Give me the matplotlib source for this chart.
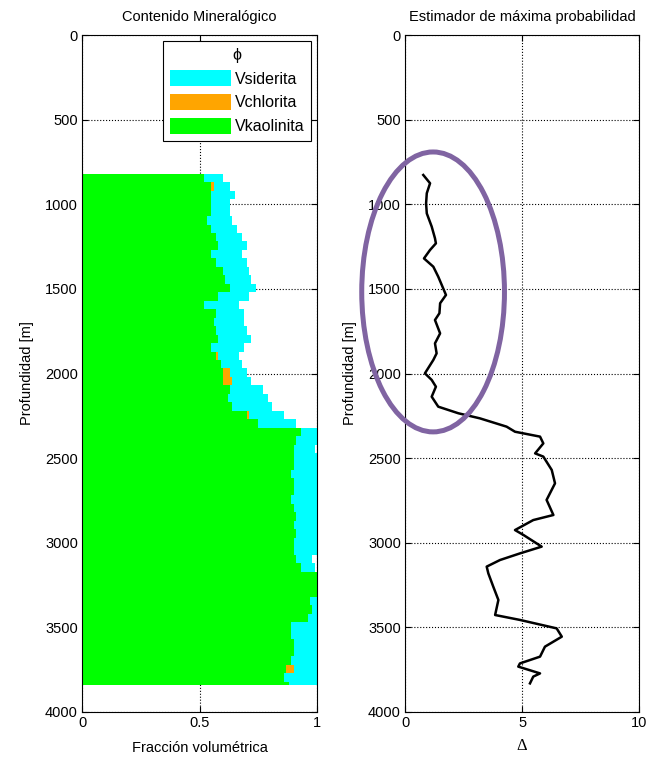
import matplotlib.pyplot as plt
import numpy as np
from matplotlib.patches import Patch, Ellipse

plt.rcParams['font.family'] = ['Liberation Sans', 'DejaVu Sans']
plt.rcParams['font.size'] = 10

# mineral content, 50 m blocks starting at each depth
depth_min = [820, 870, 920, 970, 1020, 1070, 1120, 1170, 1220, 1270,
             1320, 1370, 1420, 1470, 1520, 1570, 1620, 1670, 1720, 1770,
             1820, 1870, 1920, 1970, 2020, 2070, 2120, 2170, 2220, 2270,
             2320, 2370, 2420, 2470, 2520, 2570, 2620, 2670, 2720, 2770,
             2820, 2870, 2920, 2970, 3020, 3070, 3120, 3170, 3220, 3270,
             3320, 3370, 3420, 3470, 3520, 3570, 3620, 3670, 3720, 3770,
             3820]
depth_end = 3840
vkaol = [0.52, 0.55, 0.55, 0.55, 0.55, 0.53, 0.55, 0.57, 0.58, 0.55,
         0.57, 0.60, 0.61, 0.63, 0.58, 0.52, 0.57, 0.56, 0.57, 0.58,
         0.55, 0.57, 0.59, 0.60, 0.60, 0.63, 0.62, 0.64, 0.70, 0.75,
         0.93, 0.91, 0.90, 0.90, 0.90, 0.89, 0.90, 0.90, 0.89, 0.90,
         0.91, 0.90, 0.91, 0.90, 0.90, 0.91, 0.93, 1.00, 1.00, 1.00,
         0.97, 0.98, 0.96, 0.89, 0.89, 0.90, 0.90, 0.89, 0.87, 0.86,
         0.88]
vchl = [0.00, 0.01, 0.00, 0.00, 0.00, 0.00, 0.00, 0.00, 0.00, 0.00,
        0.00, 0.00, 0.00, 0.00, 0.00, 0.00, 0.00, 0.00, 0.00, 0.00,
        0.00, 0.01, 0.00, 0.03, 0.04, 0.00, 0.00, 0.00, 0.01, 0.00,
        0.00, 0.00, 0.00, 0.00, 0.00, 0.00, 0.00, 0.00, 0.00, 0.00,
        0.00, 0.00, 0.00, 0.00, 0.00, 0.00, 0.00, 0.00, 0.00, 0.00,
        0.00, 0.00, 0.00, 0.00, 0.00, 0.00, 0.00, 0.00, 0.03, 0.00,
        0.00]
vsid = [0.08, 0.07, 0.10, 0.08, 0.08, 0.11, 0.11, 0.11, 0.12, 0.13,
        0.13, 0.11, 0.11, 0.11, 0.13, 0.15, 0.12, 0.13, 0.13, 0.14,
        0.14, 0.09, 0.09, 0.07, 0.08, 0.14, 0.17, 0.17, 0.15, 0.16,
        0.07, 0.09, 0.09, 0.10, 0.10, 0.11, 0.10, 0.10, 0.11, 0.10,
        0.09, 0.10, 0.09, 0.10, 0.10, 0.07, 0.06, 0.00, 0.00, 0.00,
        0.03, 0.02, 0.04, 0.11, 0.11, 0.10, 0.10, 0.11, 0.10, 0.14,
        0.12]

# maximum likelihood estimator
depth_est = [827, 876, 935, 995, 1054, 1132, 1201, 1231, 1270, 1320,
             1369, 1428, 1477, 1536, 1585, 1644, 1684, 1763, 1822, 1881,
             1920, 1999, 2038, 2078, 2137, 2196, 2235, 2265, 2314, 2344,
             2373, 2413, 2472, 2491, 2570, 2649, 2747, 2836, 2866, 2925,
             2954, 3023, 3063, 3102, 3141, 3181, 3259, 3338, 3427, 3456,
             3506, 3555, 3614, 3673, 3713, 3732, 3772, 3791, 3831]
delta = [0.78, 1.07, 0.93, 0.90, 0.93, 1.14, 1.28, 1.32, 1.07, 0.81,
         1.21, 1.42, 1.57, 1.75, 1.50, 1.47, 1.28, 1.50, 1.28, 1.35,
         1.21, 0.85, 1.14, 1.32, 1.14, 1.42, 2.28, 3.20, 4.34, 4.70,
         5.77, 5.91, 5.56, 5.91, 6.27, 6.41, 6.05, 6.34, 5.48, 4.70,
         5.06, 5.84, 4.91, 4.06, 3.49, 3.56, 3.77, 3.99, 3.85, 4.91,
         6.48, 6.70, 5.98, 5.77, 4.91, 4.84, 5.77, 5.48, 5.34]

c_sid = '#00FFFF'
c_chl = '#FFA500'
c_kao = '#00FF00'

fig = plt.figure(figsize=(6.52, 7.58), dpi=100)
ax1 = fig.add_axes([0.1258, 0.0607, 0.3604, 0.8931])
ax2 = fig.add_axes([0.6212, 0.0607, 0.3589, 0.8931])

y = np.append(depth_min, depth_end)
k = np.append(vkaol, vkaol[-1])
c = k + np.append(vchl, vchl[-1])
s = c + np.append(vsid, vsid[-1])
ax1.fill_betweenx(y, c, s, step='post', color=c_sid, linewidth=0)
ax1.fill_betweenx(y, k, c, step='post', color=c_chl, linewidth=0)
ax1.fill_betweenx(y, 0, k, step='post', color=c_kao, linewidth=0)

ax2.plot(delta, depth_est, color='black', linewidth=1.8)
ell = Ellipse((1.2, 1518), 6.1, 1654, fill=False, edgecolor='#8064A2',
              linewidth=3.6, clip_on=False, zorder=5)
ax2.add_patch(ell)

for ax in (ax1, ax2):
    ax.set_ylim(4000, 0)
    ax.set_yticks(np.arange(0, 4001, 500))
    ax.set_axisbelow(True)
    ax.grid(True, linestyle=':', color='black', linewidth=0.8)
    ax.tick_params(direction='in', top=True, right=True, length=4,
                   labelsize=10.5, pad=3)
    ax.set_ylabel('Profundidad [m]', fontsize=10.5, labelpad=8)
    for sp in ax.spines.values():
        sp.set_linewidth(0.8)

ax1.set_xlim(0, 1)
ax1.set_xticks([0, 0.5, 1])
ax1.set_xticklabels(['0', '0.5', '1'])
ax1.set_xlabel('Fracción volumétrica', fontsize=10.5, labelpad=8)
ax1.set_title('Contenido Mineralógico', fontsize=10.5, pad=10)

ax2.set_xlim(0, 10)
ax2.set_xticks([0, 5, 10])
ax2.set_xlabel('Δ', fontsize=12, family=['Liberation Serif', 'DejaVu Serif'],
               labelpad=6)
ax2.set_title('Estimador de máxima probabilidad', fontsize=10.5, pad=10)

handles = [Patch(facecolor=c_sid, edgecolor='none'),
           Patch(facecolor=c_chl, edgecolor='none'),
           Patch(facecolor=c_kao, edgecolor='none')]
leg = ax1.legend(handles, ['Vsiderita', 'Vchlorita', 'Vkaolinita'],
                 title='ϕ', loc='upper right', fancybox=False,
                 edgecolor='black', framealpha=1, fontsize=11.5,
                 title_fontsize=11.5, handlelength=3.8, handleheight=1.2,
                 borderaxespad=0.35, labelspacing=0.45, handletextpad=0.25,
                 borderpad=0.45)
leg.get_frame().set_linewidth(0.8)

fig.savefig('out.png', dpi=100)
